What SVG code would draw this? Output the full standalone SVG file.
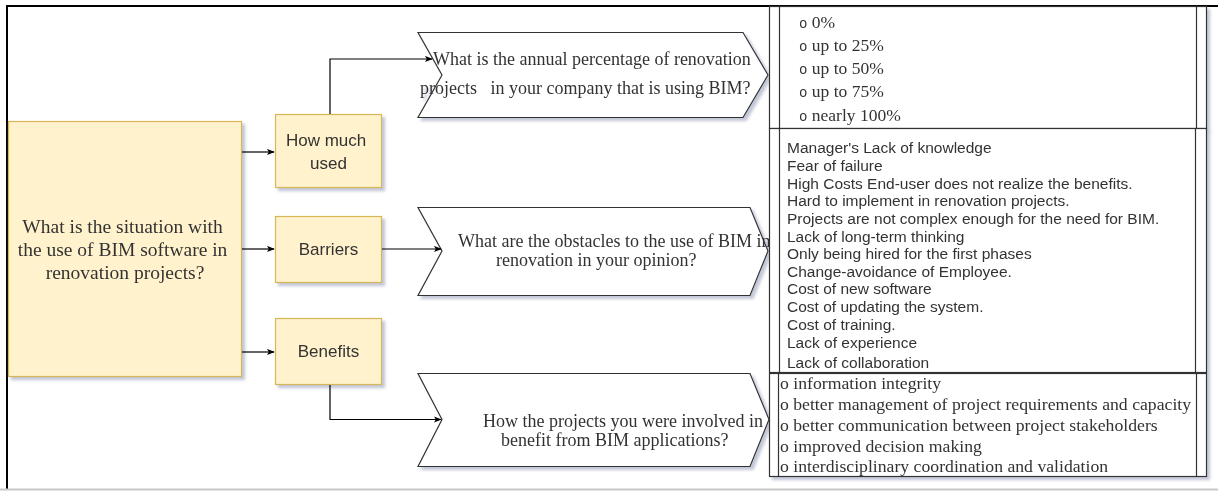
<svg xmlns="http://www.w3.org/2000/svg" width="1218" height="491" viewBox="0 0 1218 491">
  <style>
    .serif { font-family: "Liberation Serif", "Times New Roman", serif; fill: #333; }
    .sans { font-family: "Liberation Sans", Arial, sans-serif; fill: #333; }
    .bullet { font-family: "Liberation Mono", "Courier New", monospace; fill: #333; }
    .yellow { fill: #fff2cc; stroke: #d6b656; stroke-width: 1.2; }
    .plain { fill: #ffffff; stroke: #333; stroke-width: 1.2; }
    .edge { fill: none; stroke: #000; stroke-width: 1.2; }
    .frameline { stroke: #000; stroke-width: 2; }
  </style>
  <defs>
    <filter id="shadow" x="-5%" y="-5%" width="115%" height="115%">
      <feDropShadow dx="3" dy="3" stdDeviation="1.5" flood-color="#8e96b4" flood-opacity="0.55"/>
    </filter>
    <marker id="arrow" viewBox="0 0 10 8" refX="9" refY="4" markerWidth="8" markerHeight="7" markerUnits="userSpaceOnUse" orient="auto">
      <path d="M0,0 L10,4 L0,8 L2.5,4 Z" fill="#000"/>
    </marker>
  </defs>

  <rect width="1218" height="491" fill="#fff"/>

  <!-- page frame -->
  <g id="frame">
    <line class="frameline" x1="6" y1="6" x2="1218" y2="6"/>
    <line class="frameline" x1="7" y1="5" x2="7" y2="489"/>
    <line x1="0" y1="489.5" x2="1218" y2="489.5" stroke="#c8c8c8" stroke-width="2"/>
  </g>

  <!-- main question -->
  <g id="main-question" filter="url(#shadow)">
    <rect class="yellow" x="8.5" y="121.5" width="233" height="255"/>
    <text class="serif" font-size="19.5" text-anchor="middle">
      <tspan x="125" y="233">What is the situation with</tspan>
      <tspan x="125" y="256">the use of BIM software in</tspan>
      <tspan x="125" y="279">renovation projects?</tspan>
    </text>
  </g>

  <!-- topic boxes -->
  <g id="how-much-used" filter="url(#shadow)">
    <rect class="yellow" x="275.5" y="114.5" width="106" height="73"/>
    <text class="sans" font-size="17" text-anchor="middle">
      <tspan x="328.5" y="146">How much</tspan>
      <tspan x="328.5" y="169">used</tspan>
    </text>
  </g>
  <g id="barriers" filter="url(#shadow)">
    <rect class="yellow" x="275.5" y="216.5" width="106" height="66"/>
    <text class="sans" font-size="17" text-anchor="middle" x="328.5" y="255">Barriers</text>
  </g>
  <g id="benefits" filter="url(#shadow)">
    <rect class="yellow" x="275.5" y="318.5" width="106" height="66"/>
    <text class="sans" font-size="17" text-anchor="middle" x="328.5" y="357">Benefits</text>
  </g>

  <!-- survey questions -->
  <g id="question-usage" filter="url(#shadow)">
    <path class="plain" d="M418,32.5 L743,32.5 L768,75 L743,117.5 L418,117.5 L442,75 Z"/>
    <text class="serif" font-size="18" xml:space="preserve"><tspan x="433" y="65">What is the annual percentage of renovation</tspan><tspan x="420" y="94">projects   in your company that is using BIM?</tspan></text>
  </g>
  <g id="question-obstacles" filter="url(#shadow)">
    <path class="plain" d="M418,207.5 L750,207.5 L768,251 L750,295.5 L418,295.5 L442,251 Z"/>
    <text class="serif" font-size="18">
      <tspan x="458" y="247">What are the obstacles to the use of BIM in</tspan>
      <tspan x="496" y="266">renovation in your opinion?</tspan>
    </text>
  </g>
  <g id="question-benefits" filter="url(#shadow)">
    <path class="plain" d="M418,373.5 L750,373.5 L769,419.5 L750,466.5 L418,466.5 L442,419.5 Z"/>
    <text class="serif" font-size="18">
      <tspan x="483" y="427">How the projects you were involved in</tspan>
      <tspan x="501" y="446">benefit from BIM applications?</tspan>
    </text>
  </g>

  <!-- answer lists -->
  <g id="answers-usage" filter="url(#shadow)">
    <rect class="plain" x="769.5" y="6.5" width="437" height="122"/>
    <line class="plain" x1="779.5" y1="6.5" x2="779.5" y2="128.5"/>
    <line class="plain" x1="1196.5" y1="6.5" x2="1196.5" y2="128.5"/>
    <g class="serif" font-size="17.5">
      <text x="799" y="28"><tspan class="bullet" font-size="14">o</tspan> 0%</text>
      <text x="799" y="51"><tspan class="bullet" font-size="14">o</tspan> up to 25%</text>
      <text x="799" y="74"><tspan class="bullet" font-size="14">o</tspan> up to 50%</text>
      <text x="799" y="97"><tspan class="bullet" font-size="14">o</tspan> up to 75%</text>
      <text x="799" y="121"><tspan class="bullet" font-size="14">o</tspan> nearly 100%</text>
    </g>
  </g>
  <g id="answers-obstacles" filter="url(#shadow)">
    <rect class="plain" x="769.5" y="128.5" width="437" height="244"/>
    <line class="plain" x1="779.5" y1="128.5" x2="779.5" y2="372.5"/>
    <line class="plain" x1="1195.5" y1="128.5" x2="1195.5" y2="372.5"/>
    <g class="sans" font-size="15.5">
      <text x="787" y="153">Manager's Lack of knowledge</text>
      <text x="787" y="171">Fear of failure</text>
      <text x="787" y="189">High Costs End-user does not realize the benefits.</text>
      <text x="787" y="206">Hard to implement in renovation projects.</text>
      <text x="787" y="224">Projects are not complex enough for the need for BIM.</text>
      <text x="787" y="242">Lack of long-term thinking</text>
      <text x="787" y="259">Only being hired for the first phases</text>
      <text x="787" y="277">Change-avoidance of Employee.</text>
      <text x="787" y="294">Cost of new software</text>
      <text x="787" y="312">Cost of updating the system.</text>
      <text x="787" y="330">Cost of training.</text>
      <text x="787" y="348">Lack of experience</text>
      <text x="787" y="368">Lack of collaboration</text>
    </g>
  </g>
  <g id="answers-benefits" filter="url(#shadow)">
    <rect class="plain" x="769.5" y="373.5" width="437" height="103"/>
    <line class="plain" x1="778.5" y1="373.5" x2="778.5" y2="476.5"/>
    <line class="plain" x1="1196.5" y1="373.5" x2="1196.5" y2="476.5"/>
    <g class="serif" font-size="17.7">
      <text x="780" y="389">o information integrity</text>
      <text x="780" y="410">o better management of project requirements and capacity</text>
      <text x="780" y="431">o better communication between project stakeholders</text>
      <text x="780" y="452">o improved decision making</text>
      <text x="780" y="472">o interdisciplinary coordination and validation</text>
    </g>
  </g>

  <!-- connectors -->
  <g id="connectors">
    <path class="edge" d="M242,152 L274,152" marker-end="url(#arrow)"/>
    <path class="edge" d="M242,249 L274,249" marker-end="url(#arrow)"/>
    <path class="edge" d="M242,352 L274,352" marker-end="url(#arrow)"/>
    <path class="edge" d="M330,114 L330,59 L432,59" marker-end="url(#arrow)"/>
    <path class="edge" d="M382,249 L441,249" marker-end="url(#arrow)"/>
    <path class="edge" d="M330,385 L330,419.5 L441,419.5" marker-end="url(#arrow)"/>
  </g>
</svg>
